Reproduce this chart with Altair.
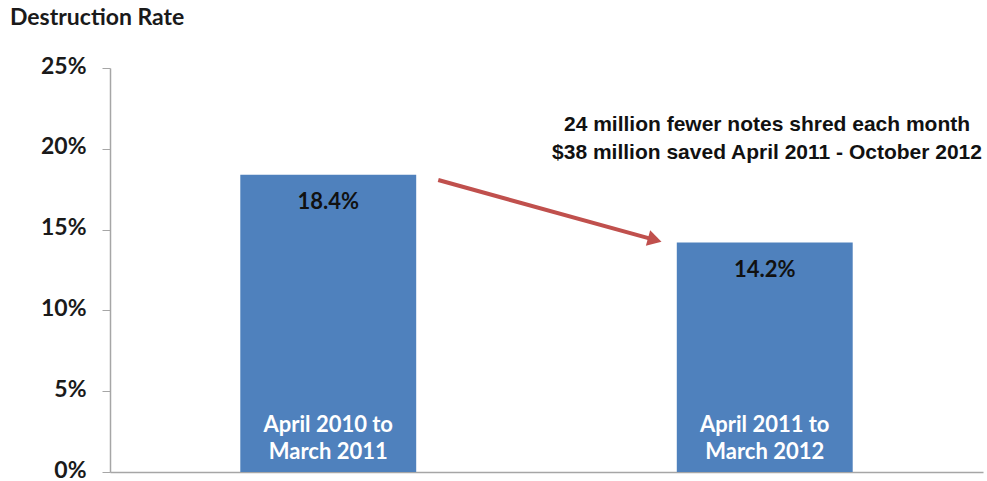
import altair as alt
import pandas as pd

periods = ["April 2010 to\nMarch 2011", "April 2011 to\nMarch 2012"]
rates = [0.184, 0.142]
value_labels = ["18.4%", "14.2%"]

arrow_x = [0.376, 0.624]
arrow_y = [0.1807, 0.1436]
note_lines = ["24 million fewer notes shred each month", "$38 million saved April 2011 - October 2012"]
note_x = 0.7526
note_y = 0.2147

bars_df = pd.DataFrame({"period": periods, "rate": rates, "label": value_labels})
arrow_df = pd.DataFrame({"x": [arrow_x[0]], "x2": [arrow_x[1]], "y": [arrow_y[0]], "y2": [arrow_y[1]]})
head_df = pd.DataFrame({"x": [arrow_x[1]], "y": [arrow_y[1]]})
note_df = pd.DataFrame({"x": [note_x], "y": [note_y], "text": ["\n".join(note_lines)]})

yscale = alt.Scale(domain=[0, 0.25], nice=False)
xband = alt.X("period:N", sort=periods,
              scale=alt.Scale(paddingInner=0.597, paddingOuter=0.2985),
              axis=alt.Axis(title=None, labels=False, ticks=False, domainColor="#A6A6A6", domainWidth=1.5))

base = alt.Chart(bars_df)
bars = base.mark_bar(color="#4F81BD").encode(
    x=xband,
    y=alt.Y("rate:Q", scale=yscale,
            axis=alt.Axis(title=None, values=[0, 0.05, 0.10, 0.15, 0.20, 0.25], format=".0%",
                          grid=False, domainColor="#A6A6A6", tickColor="#A6A6A6", tickSize=8,
                          domainWidth=1.5, labelFont="Lato", labelFontWeight="bold", labelFontSize=23,
                          labelColor="#1a1a1a", labelPadding=16, labelOffset=-2)),
)
vals = base.mark_text(font="Lato", fontWeight="bold", fontSize=22, color="#111111", dy=27, baseline="middle").encode(
    x=alt.X("period:N", sort=periods), y=alt.Y("rate:Q", scale=yscale), text="label:N")
cats = base.mark_text(font="Lato", fontWeight="bold", fontSize=22, color="white", lineBreak="\n",
                      baseline="middle", dy=-47, lineHeight=27).encode(
    x=alt.X("period:N", sort=periods), y=alt.datum(0), text="period:N")

xq = alt.Scale(domain=[0, 1])
arrow = alt.Chart(arrow_df).mark_rule(color="#C0504D", strokeWidth=4).encode(
    x=alt.X("x:Q", scale=xq, axis=None), x2="x2:Q",
    y=alt.Y("y:Q", scale=yscale), y2="y2:Q")
head = alt.Chart(head_df).mark_point(shape="triangle-right", filled=True, color="#C0504D",
                                     size=260, angle=15.5, opacity=1).encode(
    x=alt.X("x:Q", scale=xq, axis=None), y=alt.Y("y:Q", scale=yscale))
note = alt.Chart(note_df).mark_text(font="Liberation Sans", fontWeight="bold", fontSize=21,
                                    color="#111111", lineBreak="\n", lineHeight=28, align="center",
                                    baseline="middle").encode(
    x=alt.X("x:Q", scale=xq, axis=None), y=alt.Y("y:Q", scale=yscale), text="text:N")

left = alt.layer(bars, vals, cats)
right = alt.layer(arrow, head, note)
chart = alt.layer(left, right).resolve_scale(x="independent").properties(
    width=873, height=404,
    padding={"left": 110, "top": 68, "right": 4, "bottom": 9},
    autosize=alt.AutoSizeParams(type="none"),
    background="white",
    title=alt.Title("Destruction Rate", anchor="start", frame="group", dx=-100, offset=25,
                    font="Lato", fontWeight="bold", fontSize=23, color="#1a1a1a"),
).configure_view(strokeWidth=0)

chart.save("out.html", embed_options={"renderer": "svg", "actions": False})
